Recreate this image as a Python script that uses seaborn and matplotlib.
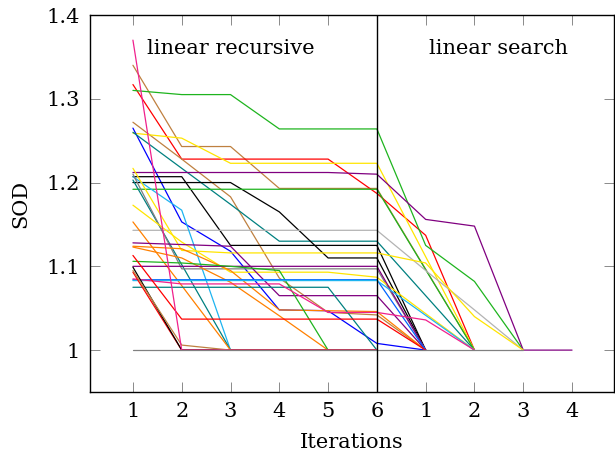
import matplotlib
matplotlib.use("Agg")
import matplotlib.pyplot as plt
import pandas as pd
import seaborn as sns

# x positions 1..6 = linear recursive, 7..10 = linear search
recursive_iters = [1, 2, 3, 4, 5, 6]
search_iters = [1, 2, 3, 4]
tick_labels = [str(i) for i in recursive_iters + search_iters]
y_ticks = [1.0, 1.1, 1.2, 1.3, 1.4]
y_tick_labels = ["1", "1.1", "1.2", "1.3", "1.4"]

# SOD per run (one list per run, position 1 onwards)
runs = [
    [1.34, 1.243, 1.243, 1.193, 1.193, 1.193, 1.0965, 1.0],
    [1.317, 1.228, 1.228, 1.228, 1.228, 1.187, 1.137, 1.0],
    [1.31, 1.305, 1.305, 1.264, 1.264, 1.264, 1.125, 1.082, 1.0],
    [1.272, 1.228, 1.183, 1.086, 1.045, 1.042, 1.0],
    [1.259, 1.253, 1.223, 1.223, 1.223, 1.223, 1.1115, 1.0],
    [1.265, 1.153, 1.118, 1.048, 1.047, 1.008, 1.0],
    [1.26, 1.217, 1.174, 1.13, 1.13, 1.13, 1.065, 1.0],
    [1.212, 1.212, 1.212, 1.212, 1.212, 1.21, 1.156, 1.148, 1.0, 1.0],
    [1.207, 1.207, 1.125, 1.125, 1.125, 1.125, 1.0],
    [1.2, 1.2, 1.2, 1.165, 1.11, 1.11, 1.0],
    [1.192, 1.192, 1.192, 1.192, 1.192, 1.192, 1.096, 1.0],
    [1.143, 1.143, 1.143, 1.143, 1.143, 1.143, 1.095, 1.048, 1.0],
    [1.207, 1.167, 1.0, 1.0, 1.0, 1.0],
    [1.203, 1.102, 1.0, 1.0, 1.0, 1.0],
    [1.21, 1.097, 1.097, 1.097, 1.097, 1.097, 1.0],
    [1.217, 1.119, 1.116, 1.116, 1.116, 1.116, 1.104, 1.04, 1.0],
    [1.173, 1.129, 1.093, 1.093, 1.093, 1.087, 1.0435, 1.0],
    [1.153, 1.077, 1.0, 1.0, 1.0, 1.0],
    [1.124, 1.121, 1.095, 1.048, 1.047, 1.046, 1.0],
    [1.123, 1.11, 1.081, 1.041, 1.0, 1.0],
    [1.128, 1.126, 1.124, 1.065, 1.065, 1.065, 1.0],
    [1.1, 1.1, 1.1, 1.1, 1.1, 1.1, 1.0],
    [1.106, 1.104, 1.1, 1.095, 1.0, 1.0],
    [1.084, 1.084, 1.084, 1.084, 1.084, 1.084, 1.0],
    [1.083, 1.083, 1.083, 1.083, 1.083, 1.083, 1.0415, 1.0],
    [1.075, 1.075, 1.075, 1.075, 1.075, 1.0],
    [1.085, 1.079, 1.079, 1.079, 1.045, 1.045, 1.036, 1.0],
    [1.113, 1.037, 1.037, 1.037, 1.037, 1.037, 1.0],
    [1.093, 1.0, 1.0, 1.0, 1.0, 1.0],
    [1.099, 1.0, 1.0, 1.0, 1.0, 1.0],
    [1.095, 1.006, 1.0, 1.0, 1.0, 1.0],
    [1.37, 1.0, 1.0, 1.0, 1.0, 1.0],
    [1.0, 1.0, 1.0, 1.0, 1.0, 1.0, 1.0, 1.0, 1.0],
]
run_colors = [
    "#bf8040", "#ff0000", "#1eb41e", "#bf8040", "#ffe500", "#0000ff",
    "#008080", "#800080", "#000000", "#000000", "#1eb41e", "#b3b3b3",
    "#1eb4f0", "#008080", "#808080", "#ffe500", "#ffe500", "#ff8000",
    "#ff8000", "#ff8000", "#800080", "#800080", "#1eb41e", "#0064ff",
    "#1eb4f0", "#008080", "#f0208c", "#ff0000", "#ff0000", "#000000",
    "#bf8040", "#f0208c", "#808080",
]

rows = []
for i, vals in enumerate(runs):
    for j, v in enumerate(vals):
        rows.append({"run": i, "pos": j + 1, "sod": v})
df = pd.DataFrame(rows)

sns.set_style("ticks")
plt.rcParams["font.family"] = ["DejaVu Serif"]
plt.rcParams["font.size"] = 15
plt.rcParams["text.color"] = "black"
plt.rcParams["axes.labelcolor"] = "black"
plt.rcParams["xtick.labelcolor"] = "black"
plt.rcParams["ytick.labelcolor"] = "black"

fig = plt.figure(figsize=(6.15, 4.62), dpi=100)
ax = fig.add_axes([90 / 615, 70 / 462, 524 / 615, 377 / 462])

sns.lineplot(data=df, x="pos", y="sod", hue="run", palette=run_colors,
             estimator=None, sort=False, legend=False, lw=0.9, ax=ax)

ax.axvline(6, color="black", lw=1.0)

ax.set_xlim(0.12, 10.86)
ax.set_ylim(0.95, 1.4)
ax.set_xticks(range(1, len(tick_labels) + 1))
ax.set_xticklabels(tick_labels)
ax.set_yticks(y_ticks)
ax.set_yticklabels(y_tick_labels)
ax.tick_params(direction="in", length=7, width=0.6, color="#777777",
               labelcolor="black", top=True, right=True, pad=7, labelsize=15)
for s in ax.spines.values():
    s.set_color("black")
    s.set_linewidth(1.0)

ax.text(3.0, 1.36, "linear recursive", ha="center", va="center",
        fontsize=15, color="black")
ax.text(8.5, 1.36, "linear search", ha="center", va="center",
        fontsize=15, color="black")

ax.set_xlabel("Iterations", fontsize=15, labelpad=9, color="black")
ax.set_ylabel("SOD", fontsize=15, labelpad=12, color="black")

fig.savefig("out.png", dpi=100)
